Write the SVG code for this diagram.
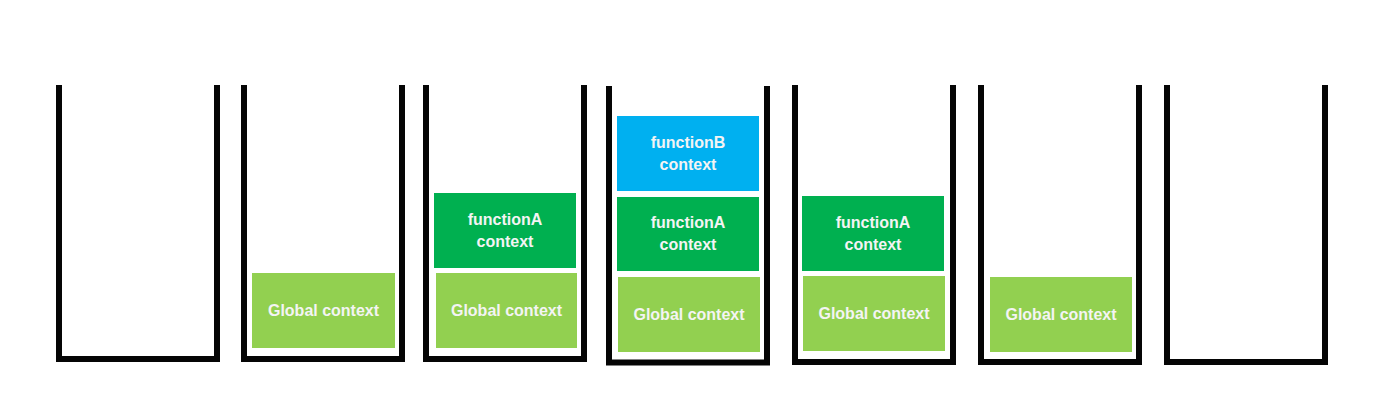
<svg xmlns="http://www.w3.org/2000/svg" width="1400" height="417" viewBox="0 0 1400 417">
<style>
.stack{fill:none;stroke:#050505;stroke-width:6;stroke-linejoin:miter;stroke-linecap:butt}
.g{fill:#92D050}
.a{fill:#00B050}
.b{fill:#00B0F0}
text{font-family:"Liberation Sans",Arial,sans-serif;font-weight:bold;font-size:16px;fill:#F4F4F4;text-anchor:middle}
</style>
<rect width="1400" height="417" fill="#ffffff"/>
<g id="stack1">
<polyline class="stack" points="59,85 59,359 217,359 217,85"/>
</g>
<g id="stack2">
<polyline class="stack" points="244,85 244,359 402,359 402,85"/>
<g id="s2-global"><rect class="g" x="252" y="273" width="143" height="75"/><text x="323.5" y="316">Global context</text></g>
</g>
<g id="stack3">
<polyline class="stack" points="426,85 426,359 584,359 584,85"/>
<g id="s3-functionA"><rect class="a" x="434" y="193" width="142" height="75"/><text x="505" y="225">functionA</text><text x="505" y="247">context</text></g>
<g id="s3-global"><rect class="g" x="436" y="273" width="141" height="75"/><text x="506.5" y="316">Global context</text></g>
</g>
<g id="stack4">
<polyline class="stack" points="609,86 609,362.5 767,362.5 767,86"/>
<g id="s4-functionB"><rect class="b" x="617" y="116" width="142" height="75"/><text x="688" y="148">functionB</text><text x="688" y="170">context</text></g>
<g id="s4-functionA"><rect class="a" x="617" y="197" width="142" height="74"/><text x="688" y="228">functionA</text><text x="688" y="250">context</text></g>
<g id="s4-global"><rect class="g" x="618" y="277" width="142" height="75"/><text x="689" y="320">Global context</text></g>
</g>
<g id="stack5">
<polyline class="stack" points="795,85 795,362 953,362 953,85"/>
<g id="s5-functionA"><rect class="a" x="802" y="196" width="142" height="75"/><text x="873" y="228">functionA</text><text x="873" y="250">context</text></g>
<g id="s5-global"><rect class="g" x="803" y="276" width="142" height="75"/><text x="874" y="319">Global context</text></g>
</g>
<g id="stack6">
<polyline class="stack" points="981,85 981,362 1139,362 1139,85"/>
<g id="s6-global"><rect class="g" x="990" y="277" width="142" height="75"/><text x="1061" y="320">Global context</text></g>
</g>
<g id="stack7">
<polyline class="stack" points="1167,85 1167,362 1325,362 1325,85"/>
</g>
<g id="connectors"></g>
</svg>
